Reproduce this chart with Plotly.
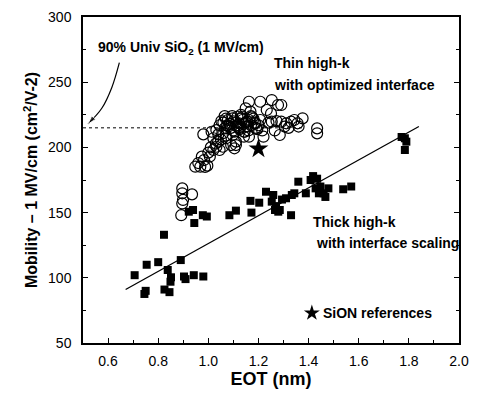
import plotly.graph_objects as go

# Open circles: thin high-k with optimized interface
thin_x = [0.896, 0.896, 0.899, 0.935, 0.896, 0.892, 0.948, 0.968, 0.987, 0.996,
          0.974, 0.983, 1.006, 1.02, 1.032, 1.039, 1.02, 1.013, 0.98, 1.032,
          1.045, 1.052, 1.065, 1.071, 1.091, 1.104, 1.11, 1.097, 1.078, 1.097,
          1.116, 1.136, 1.149, 1.142, 1.045, 1.058, 1.162, 1.207, 1.253, 1.278,
          1.291, 1.233, 1.168, 1.136, 1.123, 1.162, 1.188, 1.207, 1.142, 1.162,
          1.22, 1.253, 1.272, 1.291, 1.311, 1.33, 1.343, 1.356, 1.376, 1.285,
          1.434, 1.434, 1.304, 1.11, 1.06, 1.07, 1.085, 1.1, 1.12, 1.13,
          1.15, 1.17, 1.18, 1.09, 1.075, 1.125, 1.155, 1.175, 1.195, 1.105,
          1.04, 1.05, 1.03, 1.0, 1.01, 0.96, 1.06, 1.115, 1.145, 1.2,
          1.215, 1.24, 1.265, 1.32, 1.36, 1.25, 1.065, 1.08, 1.095, 1.11,
          1.125, 1.14, 1.155, 1.17, 1.185, 1.07, 1.1, 1.13, 1.16, 1.19]
thin_y = [168.6, 164.8, 159.7, 164.0, 157.0, 148.0, 185.2, 185.2, 185.0, 186.0,
          192.9, 190.3, 193.0, 198.0, 200.5, 204.4, 207.0, 212.0, 210.0, 213.3,
          217.0, 220.2, 214.6, 207.0, 201.8, 199.3, 204.4, 209.5, 221.0, 222.3,
          223.5, 221.0, 230.0, 208.2, 198.0, 200.5, 235.0, 235.0, 236.3, 232.5,
          232.5, 228.7, 227.4, 223.5, 218.5, 221.0, 218.5, 221.0, 212.0, 208.2,
          208.2, 219.7, 220.2, 219.7, 218.5, 219.7, 221.0, 218.5, 222.3, 209.5,
          214.6, 210.8, 216.0, 201.8, 219.0, 222.0, 218.0, 220.0, 217.0, 222.0,
          219.0, 217.0, 222.0, 215.0, 217.0, 214.0, 216.0, 223.0, 214.0, 212.0,
          210.0, 206.0, 203.0, 196.0, 200.0, 188.0, 211.0, 216.0, 212.0, 217.0,
          213.0, 219.0, 213.0, 215.0, 216.0, 226.0, 224.0, 216.0, 224.0, 219.0,
          215.0, 218.0, 220.0, 224.0, 219.0, 209.0, 213.0, 225.0, 213.0, 215.0]

# Filled squares: thick high-k with interface scaling
thick_x = [0.706, 0.754, 0.80, 0.823, 0.745, 0.75, 0.838, 0.851, 0.849, 0.825,
           0.845, 0.89, 0.903, 0.909, 0.942, 0.98, 0.922, 0.939, 0.944, 0.978,
           0.994, 1.084, 1.11, 1.172, 1.168, 1.203, 1.266, 1.279, 1.33, 1.23,
           1.253, 1.259, 1.285, 1.294, 1.333, 1.343, 1.359, 1.389, 1.408, 1.418,
           1.428, 1.441, 1.434, 1.447, 1.46, 1.479, 1.467, 1.538, 1.57, 1.771,
           1.784, 1.79, 1.784, 1.27, 1.31]
thick_y = [102.0, 110.0, 112.0, 133.0, 87.6, 90.0, 106.0, 100.4, 97.0, 91.0,
           89.0, 113.6, 101.0, 99.0, 102.0, 101.0, 150.7, 152.0, 142.0, 148.0,
           147.0, 148.0, 151.5, 150.0, 159.0, 157.6, 152.0, 150.7, 148.0, 166.0,
           158.4, 163.5, 152.0, 160.0, 163.5, 164.8, 173.7, 164.8, 175.0, 178.0,
           168.6, 164.8, 176.0, 170.0, 164.8, 168.6, 162.0, 167.9, 170.0, 208.0,
           207.0, 204.4, 198.0, 155.0, 161.0]

# SiON reference
sion_x = [1.2]
sion_y = [199.0]

# Linear trend for thick high-k
fit_x = [0.67, 1.84]
fit_y = [91.0, 216.0]

# 90% universal SiO2 level
univ_x = [0.5, 1.38]
univ_y = [215.0, 215.0]

# pointer from label to the dotted line
arrow_x = [0.645, 0.615, 0.575, 0.52]
arrow_y = [265.0, 246.0, 230.0, 218.0]

x_ticks = [0.6, 0.8, 1.0, 1.2, 1.4, 1.6, 1.8, 2.0]
x_tick_text = ["0.6", "0.8", "1.0", "1.2", "1.4", "1.6", "1.8", "2.0"]
y_ticks = [50, 100, 150, 200, 250, 300]

fig = go.Figure()
fig.add_trace(go.Scatter(x=univ_x, y=univ_y, mode="lines",
                         line=dict(color="black", width=1, dash="dot"),
                         showlegend=False, hoverinfo="skip"))
fig.add_trace(go.Scatter(x=arrow_x, y=arrow_y, mode="lines+markers",
                         line=dict(color="black", width=1.2, shape="spline"),
                         marker=dict(symbol="arrow", size=[0, 0, 0, 9], color="black",
                                     angleref="previous"),
                         showlegend=False, hoverinfo="skip"))
fig.add_trace(go.Scatter(x=fit_x, y=fit_y, mode="lines",
                         line=dict(color="black", width=1.3),
                         showlegend=False))
fig.add_trace(go.Scatter(x=thin_x, y=thin_y, mode="markers",
                         marker=dict(symbol="circle-open", size=11, color="black",
                                     line=dict(width=1.2, color="black")),
                         showlegend=False))
fig.add_trace(go.Scatter(x=thick_x, y=thick_y, mode="markers",
                         marker=dict(symbol="square", size=8, color="black"),
                         showlegend=False))
fig.add_trace(go.Scatter(x=sion_x, y=sion_y, mode="markers",
                         marker=dict(symbol="star", size=15, color="black"),
                         showlegend=False))
# legend star marker
fig.add_trace(go.Scatter(x=[1.413], y=[73], mode="markers",
                         marker=dict(symbol="star", size=12, color="black"),
                         showlegend=False))

font_b = dict(family="Liberation Sans, Arial, sans-serif", size=14, color="black")
fig.add_annotation(x=0.89, y=276, text="<b>90% Univ SiO<sub>2</sub> (1 MV/cm)</b>",
                   showarrow=False, font=font_b)
fig.add_annotation(x=1.255, y=264.7, text="<b>Thin high-k</b>", showarrow=False,
                   xanchor="left", font=font_b)
fig.add_annotation(x=1.255, y=248, text="<b>with optimized interface</b>", showarrow=False,
                   xanchor="left", font=font_b)
fig.add_annotation(x=1.41, y=142.8, text="<b>Thick high-k</b>", showarrow=False,
                   xanchor="left", font=font_b)
fig.add_annotation(x=1.42, y=126.7, text="<b>with interface scaling</b>", showarrow=False,
                   xanchor="left", font=font_b)
fig.add_annotation(x=1.45, y=73, text="<b>SiON references</b>", showarrow=False,
                   xanchor="left", font=font_b)

fig.update_layout(
    width=478, height=401,
    margin=dict(l=83, r=9, t=17, b=58),
    paper_bgcolor="white", plot_bgcolor="white",
    font=dict(family="Liberation Sans, Arial, sans-serif", size=14, color="black"),
)
fig.update_xaxes(range=[0.5, 2.0], tickvals=x_ticks, ticktext=x_tick_text,
                 ticks="inside", ticklen=5, tickcolor="black", ticklabelstandoff=4,
                 minor=dict(ticks="inside", ticklen=3, dtick=0.1, tick0=0.5, tickcolor="black"),
                 showline=True, linecolor="black", linewidth=1.5, mirror=True,
                 showgrid=False, zeroline=False,
                 title=dict(text="<b>EOT (nm)</b>", font=dict(size=18), standoff=4),
                 tickfont=dict(size=14))
fig.update_yaxes(range=[50, 300], tickvals=y_ticks,
                 ticks="inside", ticklen=5, tickcolor="black", ticklabelstandoff=7,
                 minor=dict(ticks="inside", ticklen=3, dtick=25, tick0=50, tickcolor="black"),
                 showline=True, linecolor="black", linewidth=1.5, mirror="ticks",
                 showgrid=False, zeroline=False,
                 title=dict(text="<b>Mobility – 1 MV/cm (cm<sup>2</sup>/V-2)</b>",
                            font=dict(size=16), standoff=6),
                 tickfont=dict(size=14))

fig.write_html("out.html")
